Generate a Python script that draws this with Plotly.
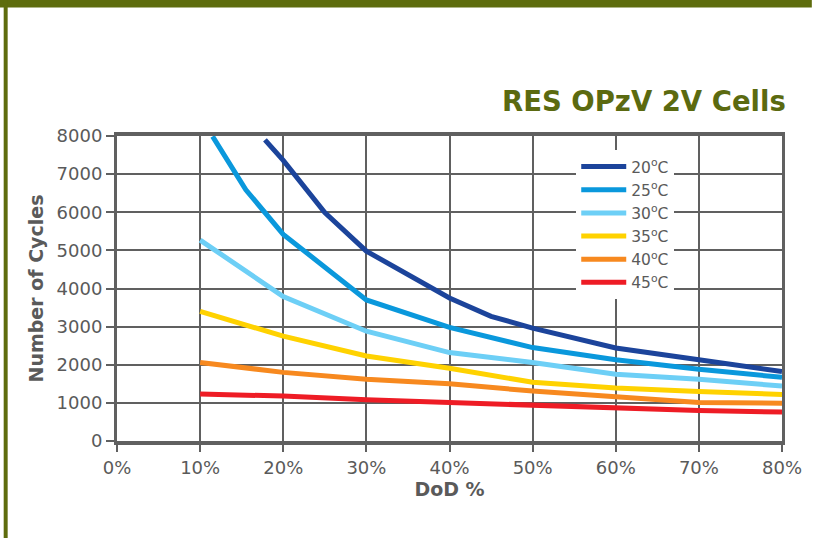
import plotly.graph_objects as go

# ---- data ----
series_names = ["20<sup>o</sup>C", "25<sup>o</sup>C", "30<sup>o</sup>C",
                "35<sup>o</sup>C", "40<sup>o</sup>C", "45<sup>o</sup>C"]
series_colors = ["#1c449b", "#0a98dc", "#6dcff6", "#ffd200", "#f7891f", "#ee1c25"]

dod_20 = [17.8, 20, 25, 30, 40, 45, 50, 60, 70, 80]
cyc_20 = [7900, 7360, 5990, 4980, 3750, 3270, 2960, 2440, 2130, 1820]

dod_25 = [11.5, 15.5, 20, 30, 40, 50, 60, 70, 80]
cyc_25 = [7990, 6590, 5420, 3700, 2980, 2450, 2130, 1880, 1670]

dod_std = [10, 20, 30, 40, 50, 60, 70, 80]
cyc_30 = [5270, 3790, 2880, 2320, 2060, 1750, 1620, 1440]
cyc_35 = [3400, 2750, 2230, 1910, 1540, 1390, 1300, 1220]
cyc_40 = [2060, 1800, 1620, 1500, 1310, 1160, 1010, 990]
cyc_45 = [1230, 1180, 1080, 1010, 950, 850, 800, 760]

x_ticks = [0, 10, 20, 30, 40, 50, 60, 70, 80]
y_ticks = [0, 1000, 2000, 3000, 4000, 5000, 6000, 7000, 8000]

series_x = [dod_20, dod_25, dod_std, dod_std, dod_std, dod_std]
series_y = [cyc_20, cyc_25, cyc_30, cyc_35, cyc_40, cyc_45]

TEXT = "#5a5a5a"
GRID = "#606060"
OLIVE = "#5e6c0d"
FONT = "DejaVu Sans"

fig = go.Figure()
for name, col, xs, ys in zip(series_names, series_colors, series_x, series_y):
    fig.add_trace(go.Scatter(x=xs, y=ys, mode="lines", name=name,
                             line=dict(color=col, width=5)))

W, H = 814, 538
L, R, T, B = 117, 28, 136, 97
pw, ph = W - L - R, H - T - B

def px(xp):
    return (xp - L) / pw

def py(yp):
    return (H - B - yp) / ph

shapes = [
    dict(type="rect", xref="paper", yref="paper", x0=px(-2), x1=px(W + 2),
         y0=py(7.5), y1=py(-2), fillcolor=OLIVE, line=dict(width=0), layer="above"),
    dict(type="rect", xref="paper", yref="paper", x0=px(3), x1=px(7),
         y0=py(H + 2), y1=py(-2), fillcolor=OLIVE, line=dict(width=0), layer="above"),
]

fig.update_layout(
    width=W, height=H,
    margin=dict(l=L, r=R, t=T, b=B),
    paper_bgcolor="white", plot_bgcolor="white",
    font=dict(family=FONT, color=TEXT, size=18),
    showlegend=True,
    legend=dict(x=px(579), y=py(150), xanchor="left", yanchor="top",
                bgcolor="white", borderwidth=0,
                font=dict(family=FONT, size=15.5, color=TEXT),
                itemwidth=45, tracegroupgap=0),
    shapes=shapes,
    annotations=[dict(text="<b>RES OPzV 2V Cells</b>", xref="paper", yref="paper",
                      x=1, y=py(101), xanchor="right", yanchor="middle",
                      xshift=6, showarrow=False,
                      font=dict(family=FONT, size=27.5, color="#5b6a10"))],
)

fig.update_xaxes(range=[0, 80], tickvals=x_ticks,
                 ticktext=[f"{v}%" for v in x_ticks],
                 showgrid=True, gridcolor=GRID, gridwidth=2,
                 showline=True, linecolor=GRID, linewidth=4, mirror=True,
                 ticks="outside", ticklen=7, tickwidth=2, tickcolor=GRID,
                 zeroline=False,
                 tickfont=dict(family=FONT, size=18, color=TEXT),
                 title=dict(text="<b>DoD %</b>", standoff=6,
                            font=dict(family=FONT, size=19, color=TEXT)))
fig.update_yaxes(range=[0, 8000], tickvals=y_ticks,
                 showgrid=True, gridcolor=GRID, gridwidth=2,
                 showline=True, linecolor=GRID, linewidth=3, mirror=True,
                 ticks="outside", ticklen=8, tickwidth=2, tickcolor=GRID,
                 zeroline=False,
                 tickfont=dict(family=FONT, size=18, color=TEXT),
                 title=dict(text="<b>Number of Cycles</b>", standoff=8,
                            font=dict(family=FONT, size=19, color=TEXT)))

fig.write_html("out.html",
               config={"displayModeBar": False},
               post_script="document.body.style.margin='0';"
                           "document.body.style.overflow='hidden';")
